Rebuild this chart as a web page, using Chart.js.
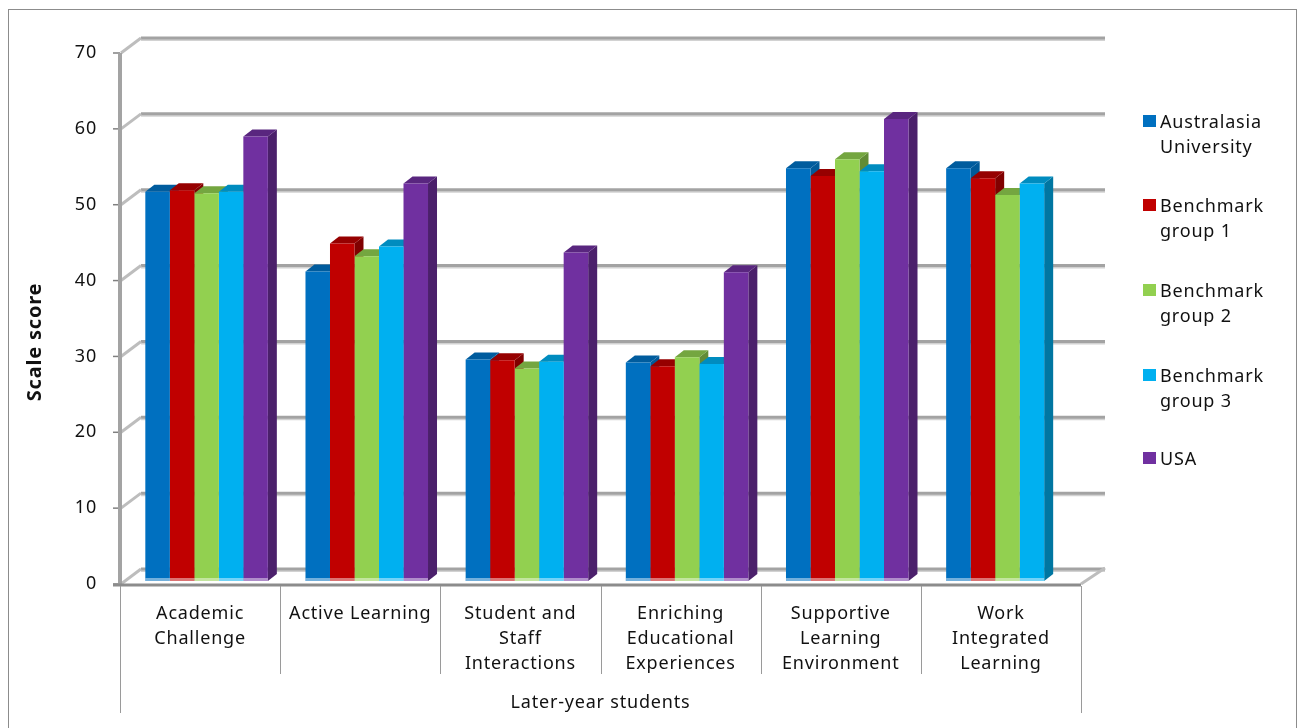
<!DOCTYPE html>
<html>
<head>
<meta charset="utf-8">
<style>
  html, body { margin: 0; padding: 0; background: #fff; }
  canvas { display: block; }
</style>
</head>
<body>
<canvas id="barChart" width="1301" height="728"></canvas>
<script src="https://cdn.jsdelivr.net/npm/chart.js@4"></script>
<script>
const categories = [
  ["Academic", "Challenge"],
  "Active Learning",
  ["Student and", "Staff", "Interactions"],
  ["Enriching", "Educational", "Experiences"],
  ["Supportive", "Learning", "Environment"],
  ["Work", "Integrated", "Learning"]
];
const australasia = [51.3, 40.8, 29.2, 28.8, 54.4, 54.4];
const benchmark1 = [51.5, 44.5, 29.1, 28.3, 53.4, 53.1];
const benchmark2 = [51.1, 42.8, 28, 29.5, 55.6, 50.9];
const benchmark3 = [51.3, 44.1, 28.9, 28.6, 54, 52.4];
const usa = [58.6, 52.4, 43.3, 40.7, 60.9, null];
const yTicks = [0, 10, 20, 30, 40, 50, 60, 70];
const yAxisTitle = "Scale score";
const legendLines = [
  ["Australasia", "University"],
  ["Benchmark", "group 1"],
  ["Benchmark", "group 2"],
  ["Benchmark", "group 3"],
  ["USA"]
];

const FONT = '"Noto Sans", sans-serif';
const GRID = "#a3a3a3";
// bars sit a little behind the front of the floor
const SHIFT_X = 6.5, SHIFT_Y = -3;
const DEPTH_X = 9, DEPTH_Y = 7;
const WALL_X = 21, WALL_Y = 15;

const faces = [
  { front: "#0070C0", side: "#005a99", top: "#005c9e" },
  { front: "#C00000", side: "#800000", top: "#960000" },
  { front: "#92D050", side: "#628c36", top: "#74a640" },
  { front: "#00B0F0", side: "#0076a1", top: "#008cbf" },
  { front: "#7030A0", side: "#4b206b", top: "#59267f" }
];

function quad(ctx, pts, color) {
  ctx.fillStyle = color;
  ctx.beginPath();
  pts.forEach((p, i) => i ? ctx.lineTo(p[0], p[1]) : ctx.moveTo(p[0], p[1]));
  ctx.closePath();
  ctx.fill();
}

function line(ctx, x1, y1, x2, y2, color, width) {
  ctx.strokeStyle = color;
  ctx.lineWidth = width;
  ctx.beginPath();
  ctx.moveTo(x1, y1);
  ctx.lineTo(x2, y2);
  ctx.stroke();
}

const wallPlugin = {
  id: "wall",
  beforeDraw(chart) {
    // the original text runs wider than Noto Sans
    chart.ctx.letterSpacing = "0.8px";
  },
  beforeDatasetsDraw(chart) {
    const ctx = chart.ctx;
    const y = chart.scales.y, area = chart.chartArea;

    // outer frame
    ctx.save();
    ctx.strokeStyle = "#8c8c8c";
    ctx.lineWidth = 1;
    ctx.strokeRect(8.5, 9.5, 1288, 740);

    // back wall lines and the short diagonals on the side wall
    yTicks.forEach(v => {
      const py = y.getPixelForValue(v);
      line(ctx, area.left + WALL_X, py - WALL_Y + 2, area.right + WALL_X + 3, py - WALL_Y + 2, "#d2d2d2", 2);
      line(ctx, area.left + WALL_X, py - WALL_Y, area.right + WALL_X + 3, py - WALL_Y, GRID, 3);
      line(ctx, area.left + 1, py, area.left + WALL_X, py - WALL_Y, "#bdbdbd", 3);
      line(ctx, area.left - 7, py, area.left, py, "#808080", 1.5);
    });
    line(ctx, area.right, area.bottom, area.right + WALL_X + 3, area.bottom - WALL_Y - 1, "#bdbdbd", 3);

    // y axis
    line(ctx, area.left, area.top, area.left, area.bottom, GRID, 4);

    // side and top faces of the bars
    chart.data.datasets.forEach((ds, i) => {
      chart.getDatasetMeta(i).data.forEach((bar, j) => {
        if (ds.data[j] === null) return;
        const left = bar.x - bar.width / 2 + SHIFT_X;
        const right = bar.x + bar.width / 2 + SHIFT_X;
        const top = bar.y + SHIFT_Y;
        const bottom = bar.base + SHIFT_Y;
        quad(ctx, [[right, top], [right + DEPTH_X, top - DEPTH_Y], [right + DEPTH_X, bottom - DEPTH_Y], [right, bottom]], faces[i].side);
        quad(ctx, [[left, top], [left + DEPTH_X, top - DEPTH_Y], [right + DEPTH_X, top - DEPTH_Y], [right, top]], faces[i].top);
      });
    });
    ctx.restore();

    ctx.save();
    ctx.translate(SHIFT_X, SHIFT_Y);
  },
  afterDatasetsDraw(chart) {
    const ctx = chart.ctx;
    ctx.restore();

    const x = chart.scales.x, area = chart.chartArea;
    ctx.save();
    // pale strip along the foot of each bar
    chart.data.datasets.forEach((ds, i) => {
      chart.getDatasetMeta(i).data.forEach((bar, j) => {
        if (ds.data[j] === null) return;
        ctx.fillStyle = "rgba(255,255,255,0.45)";
        ctx.fillRect(bar.x - bar.width / 2 + SHIFT_X, bar.base + SHIFT_Y - 3, bar.width, 3);
      });
    });

    // floor edge and the category separators
    line(ctx, area.left - 7, area.bottom + 1, area.right, area.bottom + 1, "#8c8c8c", 3);
    const step = x.getPixelForValue(1) - x.getPixelForValue(0);
    for (let i = 0; i <= categories.length; i++) {
      const px = Math.round(area.left + i * step) + 0.5;
      const outer = i === 0 || i === categories.length;
      line(ctx, px, area.bottom + 2, px, outer ? 713 : 674, "#9a9a9a", 1);
    }

    // legend
    ctx.font = "18px " + FONT;
    ctx.textBaseline = "middle";
    ctx.textAlign = "left";
    const starts = [123, 207, 292, 377, 460];
    legendLines.forEach((lines, i) => {
      ctx.fillStyle = faces[i].front;
      ctx.fillRect(1143, starts[i] - 8, 13, 12);
      ctx.fillStyle = "#111";
      lines.forEach((t, j) => ctx.fillText(t, 1160, starts[i] + j * 25));
    });

    // y axis title sits lower than the middle of the axis
    ctx.translate(35, 342);
    ctx.rotate(-Math.PI / 2);
    ctx.font = "bold 20px " + FONT;
    ctx.textAlign = "center";
    ctx.fillStyle = "#111";
    ctx.fillText(yAxisTitle, 0, 0);
    ctx.restore();
  }
};

new Chart(document.getElementById("barChart"), {
  type: "bar",
  data: {
    labels: categories,
    datasets: [
      { label: "Australasia University", data: australasia, backgroundColor: faces[0].front },
      { label: "Benchmark group 1", data: benchmark1, backgroundColor: faces[1].front },
      { label: "Benchmark group 2", data: benchmark2, backgroundColor: faces[2].front },
      { label: "Benchmark group 3", data: benchmark3, backgroundColor: faces[3].front },
      { label: "USA", data: usa, backgroundColor: faces[4].front }
    ]
  },
  options: {
    responsive: false,
    animation: false,
    layout: { padding: { top: 53, right: 220, left: 0, bottom: 0 } },
    plugins: { legend: { display: false }, tooltip: { enabled: false } },
    datasets: { bar: { categoryPercentage: 0.765, barPercentage: 1, borderWidth: 0 } },
    scales: {
      x: {
        grid: { display: false },
        border: { display: false },
        ticks: {
          maxRotation: 0,
          autoSkip: false,
          padding: 9,
          color: "#111",
          font: { family: FONT, size: 18, lineHeight: 1.39 }
        },
        title: {
          display: true,
          text: "Later-year students",
          color: "#111",
          font: { family: FONT, size: 18 },
          padding: { top: 0, bottom: 14 }
        },
        afterFit(scale) { scale.height = 144; }
      },
      y: {
        min: 0,
        max: 70,
        grid: { display: false, drawTicks: false },
        border: { display: false },
        ticks: {
          stepSize: 10,
          padding: 23,
          color: "#111",
          font: { family: FONT, size: 18 }
        },
        afterFit(scale) { scale.width = 120; }
      }
    }
  },
  plugins: [wallPlugin]
});
</script>
</body>
</html>
